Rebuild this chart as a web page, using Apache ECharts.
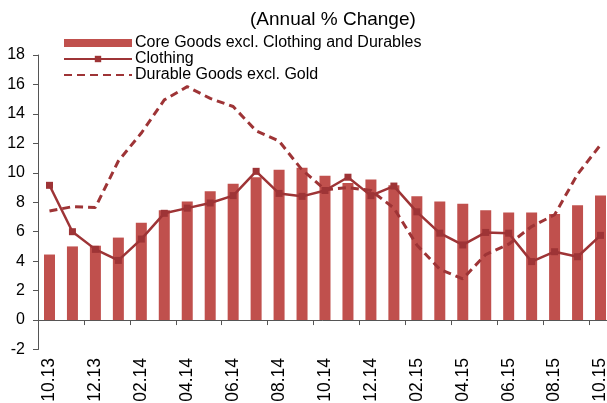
<!DOCTYPE html>
<html>
<head>
    <meta charset="utf-8">
    <title>Annual % Change</title>
    <script src="https://cdn.jsdelivr.net/npm/echarts@6/dist/echarts.min.js"></script>
    <style>
        html, body { margin: 0; padding: 0; background: #fff; }
    </style>
</head>
<body>
<div id="main" style="width: 607px;height:403px;"></div>
<script type="text/javascript">
    var months = ['10.13', '11.13', '12.13', '01.14', '02.14', '03.14', '04.14', '05.14', '06.14',
        '07.14', '08.14', '09.14', '10.14', '11.14', '12.14', '01.15', '02.15', '03.15', '04.15',
        '05.15', '06.15', '07.15', '08.15', '09.15', '10.15'];
    // core goods excl. clothing and durables (bars)
    var coreGoods = [4.45, 5.0, 5.05, 5.6, 6.6, 7.45, 8.05, 8.75, 9.25, 9.7, 10.2, 10.35, 9.8,
        9.3, 9.55, 9.15, 8.4, 8.05, 7.9, 7.45, 7.3, 7.3, 7.2, 7.8, 8.45];
    var clothing = [9.15, 6.0, 4.8, 4.05, 5.5, 7.25, 7.6, 7.95, 8.45, 10.1, 8.6, 8.4, 8.8,
        9.7, 8.45, 9.1, 7.35, 5.9, 5.1, 5.95, 5.9, 3.97, 4.64, 4.3, 5.75];
    var durables = [7.4, 7.7, 7.65, 10.8, 12.7, 14.95, 15.85, 15.05, 14.5, 12.85, 12.15, 10.2, 8.85,
        9.0, 8.8, 7.6, 5.1, 3.45, 2.8, 4.45, 5.15, 6.35, 7.15, 9.9, 11.9];

    var barColor = '#C0504D';
    var lineColor = '#9E3436';
    var font = 'Liberation Sans, Arial, sans-serif';

    var myChart = echarts.init(document.getElementById('main'));

    var option = {
        animation: false,
        title: {
            text: '(Annual % Change)',
            left: 245,
            top: 5,
            textStyle: {
                color: '#000',
                fontSize: 19,
                fontWeight: 'normal',
                fontFamily: font
            }
        },
        legend: {
            orient: 'vertical',
            left: 58,
            top: 30,
            itemWidth: 68,
            itemHeight: 8,
            itemGap: 0,
            textStyle: {
                color: '#000',
                fontSize: 16,
                lineHeight: 16,
                fontFamily: font,
                padding: [0, 0, 0, -2]
            },
            data: [
                {name: 'Core Goods excl. Clothing and Durables', icon: 'rect'},
                {name: 'Clothing'},
                {name: 'Durable Goods excl. Gold', itemStyle: {opacity: 0}}
            ]
        },
        grid: {
            left: 38,
            top: 55,
            width: 574,
            bottom: 53.5,
            outerBoundsMode: 'none',
            containLabel: false
        },
        xAxis: {
            type: 'category',
            data: months,
            boundaryGap: true,
            axisLine: {
                onZero: true,
                lineStyle: {color: '#555', width: 1}
            },
            axisTick: {
                show: true,
                interval: 1,
                length: 5,
                lineStyle: {color: '#555'}
            },
            axisLabel: {
                interval: 1,
                rotate: 90,
                margin: 8.5,
                color: '#000',
                fontSize: 17.5,
                fontFamily: font
            },
            splitLine: {show: false}
        },
        yAxis: {
            type: 'value',
            min: -2,
            max: 18,
            interval: 2,
            axisLine: {
                show: true,
                lineStyle: {color: '#555', width: 1}
            },
            axisTick: {
                show: true,
                length: 5,
                lineStyle: {color: '#555'}
            },
            axisLabel: {
                margin: 13,
                color: '#000',
                fontSize: 16,
                fontFamily: font
            },
            splitLine: {show: false}
        },
        series: [
            {
                name: 'Core Goods excl. Clothing and Durables',
                type: 'bar',
                data: coreGoods,
                barWidth: 11,
                itemStyle: {color: barColor},
                z: 1
            },
            {
                name: 'Clothing',
                type: 'line',
                data: clothing,
                symbol: 'rect',
                symbolSize: 7,
                lineStyle: {color: lineColor, width: 2.5},
                itemStyle: {color: lineColor},
                z: 3
            },
            {
                name: 'Durable Goods excl. Gold',
                type: 'line',
                data: durables,
                symbol: 'none',
                lineStyle: {color: lineColor, width: 3, type: [8, 5]},
                itemStyle: {color: lineColor},
                z: 2
            }
        ]
    };

    myChart.setOption(option);
</script>
</body>
</html>
